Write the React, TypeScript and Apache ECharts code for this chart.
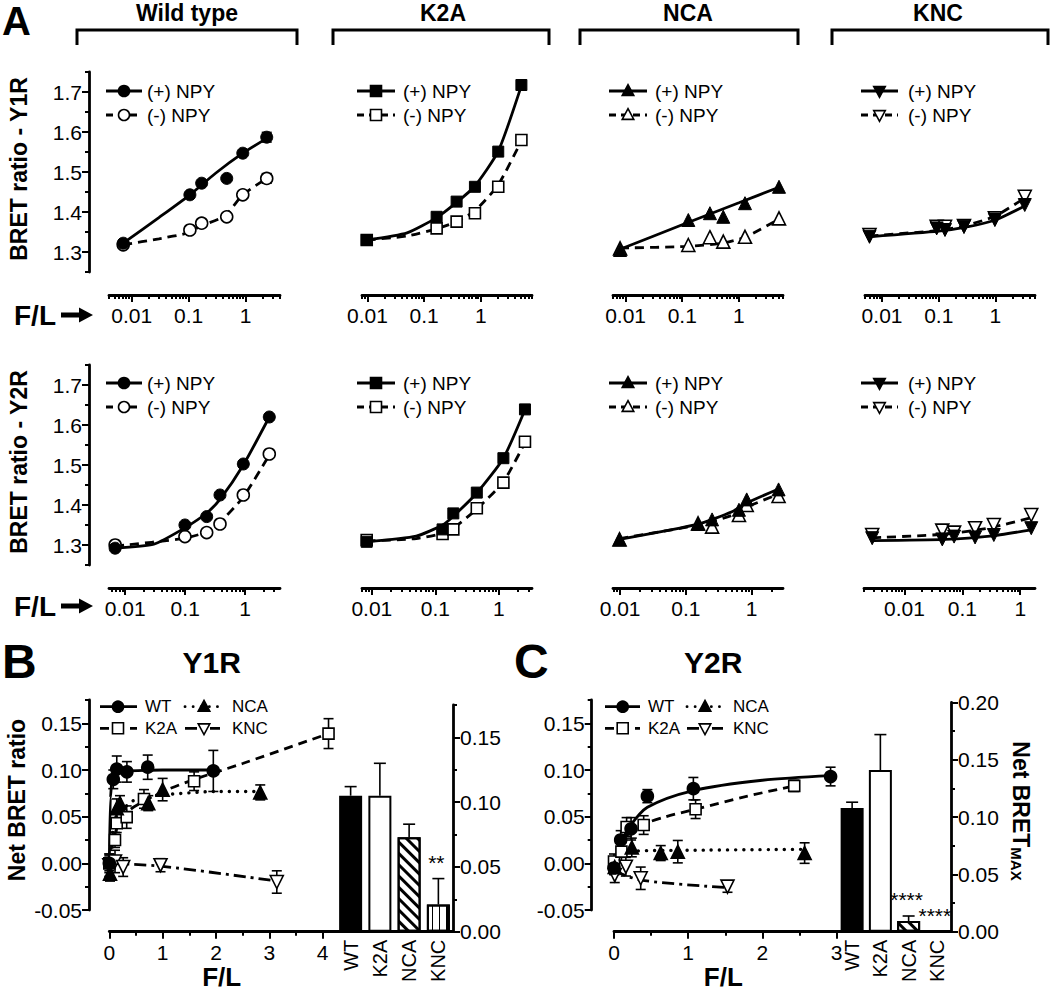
import React, { useEffect, useRef } from 'react';
import * as echarts from 'echarts';

const FONT = '"Liberation Sans", Arial, Helvetica, sans-serif';

// ---------------- Panel A : texts & ticks ----------------
const columnTitles = ['Wild type', 'K2A', 'NCA', 'KNC'];
const rowTitles = ['BRET ratio - Y1R', 'BRET ratio - Y2R'];
const legendLabelsA = ['(+) NPY', '(-) NPY'];
const yLabelsA = [1.3, 1.4, 1.5, 1.6, 1.7];
const yMinorA = [1.25, 1.35, 1.45, 1.55, 1.65, 1.75];
const logMajor = [0.001, 0.01, 0.1, 1, 10];
const logLabels = [0.01, 0.1, 1];

// Wild type, Y1R
const wtY1R_x = [0.0071, 0.105, 0.169, 0.465, 0.89, 2.34];
const wtY1R_pos = [1.322, 1.443, 1.472, 1.484, 1.547, 1.587];
const wtY1R_neg = [1.318, 1.355, 1.372, 1.388, 1.443, 1.484];
const wtY1R_posErr = [0, 0, 0, 0, 0, 0.012];
const wtY1R_negErr = [0, 0, 0, 0, 0, 0.012];
const wtY1R_fitPosX = [0.0071, 0.03, 0.105, 0.3, 0.89, 2.34];
const wtY1R_fitPosY = [1.322, 1.386, 1.443, 1.4975, 1.547, 1.584];
const wtY1R_fitNegX = [0.0071, 0.03, 0.092, 0.17, 0.43, 0.89, 2.34];
const wtY1R_fitNegY = [1.318, 1.333, 1.347, 1.366, 1.39, 1.443, 1.484];
// K2A, Y1R
const k2aY1R_x = [0.0097, 0.166, 0.374, 0.787, 2.03, 5.2];
const k2aY1R_pos = [1.33, 1.388, 1.426, 1.463, 1.551, 1.7175];
const k2aY1R_neg = [1.33, 1.359, 1.376, 1.397, 1.463, 1.58];
const k2aY1R_fitX = [0.0097, 0.05, 0.166, 0.374, 0.787, 2.03, 5.2];
const k2aY1R_fitPosY = [1.33, 1.348, 1.386, 1.424, 1.465, 1.552, 1.716];
const k2aY1R_fitNegY = [1.33, 1.34, 1.358, 1.376, 1.403, 1.468, 1.578];
// NCA, Y1R
const ncaY1R_x = [0.008, 0.128, 0.308, 0.53, 1.28, 5.1];
const ncaY1R_pos = [1.305, 1.38, 1.397, 1.388, 1.422, 1.463];
const ncaY1R_neg = [1.309, 1.3175, 1.337, 1.326, 1.338, 1.384];
const ncaY1R_fitPosX = [0.008, 0.1, 1, 5.1];
const ncaY1R_fitPosY = [1.307, 1.368, 1.423, 1.462];
const ncaY1R_fitNegX = [0.008, 0.128, 0.5, 1.28, 5.1];
const ncaY1R_fitNegY = [1.31, 1.314, 1.322, 1.337, 1.382];
// KNC, Y1R
const kncY1R_x = [0.006, 0.092, 0.129, 0.279, 0.98, 3.3];
const kncY1R_pos = [1.338, 1.359, 1.355, 1.363, 1.38, 1.4175];
const kncY1R_neg = [1.3425, 1.363, 1.363, 1.365, 1.384, 1.438];
const kncY1R_fitX = [0.006, 0.1, 0.3, 1, 3.3];
const kncY1R_fitPosY = [1.338, 1.352, 1.362, 1.38, 1.415];
const kncY1R_fitNegY = [1.34, 1.354, 1.366, 1.39, 1.435];
// Wild type, Y2R
const wtY2R_x = [0.0068, 0.099, 0.228, 0.38, 0.93, 2.52];
const wtY2R_pos = [1.292, 1.35, 1.371, 1.425, 1.5025, 1.62];
const wtY2R_neg = [1.3, 1.321, 1.331, 1.3525, 1.425, 1.5275];
const wtY2R_fitPosX = [0.0068, 0.03, 0.099, 0.228, 0.38, 0.93, 2.52];
const wtY2R_fitPosY = [1.292, 1.302, 1.343, 1.38, 1.414, 1.5, 1.62];
const wtY2R_fitNegX = [0.0068, 0.099, 0.228, 0.38, 0.93, 2.52];
const wtY2R_fitNegY = [1.297, 1.317, 1.333, 1.357, 1.42, 1.525];
// K2A, Y2R
const k2aY2R_x = [0.0083, 0.13, 0.192, 0.45, 1.18, 2.58];
const k2aY2R_pos = [1.308, 1.339, 1.379, 1.431, 1.517, 1.639];
const k2aY2R_neg = [1.3125, 1.3275, 1.339, 1.392, 1.456, 1.558];
const k2aY2R_fitX = [0.0083, 0.05, 0.13, 0.192, 0.45, 1.18, 2.58];
const k2aY2R_fitPosY = [1.308, 1.322, 1.35, 1.372, 1.43, 1.517, 1.638];
const k2aY2R_fitNegY = [1.31, 1.316, 1.329, 1.342, 1.39, 1.458, 1.556];
// NCA, Y2R
const ncaY2R_x = [0.0098, 0.153, 0.25, 0.64, 0.84, 2.56];
const ncaY2R_pos = [1.314, 1.3525, 1.364, 1.388, 1.414, 1.439];
const ncaY2R_neg = [1.314, 1.354, 1.346, 1.375, 1.4, 1.4225];
const ncaY2R_fitX = [0.0098, 0.153, 0.5, 0.84, 2.56];
const ncaY2R_fitPosY = [1.314, 1.352, 1.383, 1.405, 1.44];
const ncaY2R_fitNegY = [1.316, 1.35, 1.374, 1.395, 1.427];
// KNC, Y2R
const kncY2R_x = [0.00277, 0.045, 0.072, 0.166, 0.35, 1.55];
const kncY2R_pos = [1.317, 1.314, 1.321, 1.319, 1.325, 1.342];
const kncY2R_neg = [1.325, 1.336, 1.331, 1.342, 1.35, 1.375];
const kncY2R_fitX = [0.00277, 0.05, 0.3, 1.55];
const kncY2R_fitPosY = [1.311, 1.314, 1.322, 1.338];
const kncY2R_fitNegY = [1.318, 1.327, 1.343, 1.368];

// ---------------- Panels B / C ----------------
const groupNames = ['WT', 'K2A', 'NCA', 'KNC'];
const netLabels = [-0.05, 0, 0.05, 0.1, 0.15];
const netMinor = [-0.025, 0.025, 0.075, 0.125, 0.175];
const maxLabelsB = [0, 0.05, 0.1, 0.15];
const maxMinorB = [0.025, 0.075, 0.125, 0.175];
const maxLabelsC = [0, 0.05, 0.1, 0.15, 0.2];
const maxMinorC = [0.025, 0.075, 0.125, 0.175];
const flLabelsB = [0, 1, 2, 3, 4];
const flMinorB = [0.5, 1.5, 2.5, 3.5];
const flLabelsC = [0, 1, 2, 3];
const flMinorC = [0.5, 1.5, 2.5];

// B : Y1R
const wtB_x = [0, 0.075, 0.14, 0.33, 0.72, 1.95];
const wtB_y = [0, 0.09, 0.101, 0.098, 0.103, 0.099];
const wtB_err = [0.01, 0.01, 0.014, 0.011, 0.013, 0.022];
const wtB_fitX = [0, 0.02, 0.05, 0.1, 0.3, 1, 1.95];
const wtB_fitY = [0, 0.07, 0.09, 0.096, 0.099, 0.1, 0.1];
const k2aB_x = [0, 0.107, 0.139, 0.326, 0.65, 1.59, 4.11];
const k2aB_y = [0, 0.025, 0.043, 0.0495, 0.069, 0.088, 0.139];
const k2aB_err = [0.008, 0.008, 0.01, 0.012, 0.01, 0.01, 0.016];
const k2aB_fitX = [0, 0.1, 0.2, 0.4, 0.7, 1, 1.6, 2.5, 4.11];
const k2aB_fitY = [0, 0.03, 0.045, 0.058, 0.068, 0.077, 0.09, 0.107, 0.139];
const ncaB_x = [0.013, 0.139, 0.2, 0.73, 1.0, 2.83];
const ncaB_y = [-0.011, 0.059, 0.0645, 0.0645, 0.079, 0.076];
const ncaB_err = [0.008, 0.01, 0.008, 0.008, 0.012, 0.008];
const ncaB_fitX = [0, 0.05, 0.1, 0.2, 0.5, 1, 2, 2.83];
const ncaB_fitY = [-0.01, 0.03, 0.048, 0.058, 0.068, 0.074, 0.077, 0.077];
const kncB_x = [0, 0.107, 0.26, 0.96, 3.14];
const kncB_y = [-0.002, 0.002, -0.004, -0.002, -0.02];
const kncB_err = [0.012, 0.012, 0.01, 0.007, 0.012];
const kncB_fitX = [0, 0.96, 3.14];
const kncB_fitY = [0, -0.003, -0.019];
const barB = [0.105, 0.105, 0.073, 0.021];
const barB_err = [0.007, 0.025, 0.01, 0.02];
const sigB = ['', '', '', '**'];

// C : Y2R
const wtC_x = [0, 0.09, 0.23, 0.45, 1.07, 2.92];
const wtC_y = [-0.005, 0.025, 0.037, 0.072, 0.08, 0.093];
const wtC_err = [0.007, 0.01, 0.012, 0.007, 0.012, 0.01];
const wtC_fitX = [0, 0.1, 0.2, 0.45, 1.07, 2, 2.92];
const wtC_fitY = [0, 0.022, 0.038, 0.06, 0.078, 0.089, 0.094];
const k2aC_x = [0, 0.1, 0.17, 0.4, 1.1, 2.43];
const k2aC_y = [0.002, 0.0125, 0.039, 0.041, 0.058, 0.083];
const k2aC_err = [0.008, 0.01, 0.01, 0.01, 0.01, 0.006];
const k2aC_fitX = [0, 0.1, 0.2, 0.4, 0.7, 1.1, 1.8, 2.43];
const k2aC_fitY = [0, 0.018, 0.032, 0.042, 0.05, 0.058, 0.072, 0.083];
const ncaC_x = [0.01, 0.24, 0.63, 0.86, 2.57];
const ncaC_y = [-0.004, 0.017, 0.011, 0.0125, 0.011];
const ncaC_err = [0.008, 0.01, 0.008, 0.012, 0.011];
const ncaC_fitX = [0, 0.1, 0.24, 1, 2.57];
const ncaC_fitY = [-0.005, 0.008, 0.013, 0.014, 0.015];
const kncC_x = [0.01, 0.16, 0.36, 1.53];
const kncC_y = [-0.0126, -0.0036, -0.016, -0.025];
const kncC_err = [0.008, 0.01, 0.012, 0.006];
const kncC_fitX = [0, 0.36, 1.53];
const kncC_fitY = [-0.008, -0.018, -0.026];
const barC = [0.108, 0.141, 0.0093, 0];
const barC_err = [0.005, 0.031, 0.0044, 0];
const sigC = ['', '', '****', '****'];

// ---------------- helpers ----------------
const DASH = [9, 6];
const DOT = [0.1, 8];
const DASHDOT = [12, 5, 3, 5];
const LW = 2.8;

const zip = (xs: number[], ys: number[]) => xs.map((x, i) => [x, ys[i]]);
const zip3 = (xs: number[], ys: number[], es: number[]) => xs.map((x, i) => [x, ys[i], es[i]]);

const logMinor: number[] = [];
for (let e = -3; e <= 1; e++) for (let m = 2; m <= 9; m++) logMinor.push(+(m * Math.pow(10, e)).toPrecision(3));

const fmtLog = (v: number) => {
  const e = Math.round(Math.log10(v));
  return e < 0 ? v.toFixed(-e) : String(Math.round(v));
};
const fmt1 = (v: number) => v.toFixed(1);
const fmt2 = (v: number) => v.toFixed(2);
const fmt0 = (v: number) => String(Math.round(v));

function axisPair(o: any) {
  const inRange = (v: number) => v >= o.min * (o.type === 'log' ? 0.999 : 1) - 1e-9 && v <= o.max * (o.type === 'log' ? 1.001 : 1) + 1e-9;
  const base: any = {
    gridIndex: o.grid, type: o.type, min: o.min, max: o.max, position: o.position, offset: o.offset,
    splitLine: { show: false }, splitArea: { show: false }, minorTick: { show: false },
  };
  if (o.type === 'log') base.logBase = 10;
  const major = {
    ...base,
    axisLine: { show: true, onZero: false, lineStyle: { color: '#000', width: 2.8 } },
    axisTick: { show: true, customValues: o.major.filter(inRange), length: 7, lineStyle: { color: '#000', width: 2 } },
    axisLabel: { show: true, customValues: o.labels.filter(inRange), formatter: o.fmt, color: '#000', fontSize: o.fontSize, fontFamily: FONT, margin: o.margin },
  };
  const minor = {
    ...base,
    axisLine: { show: false, onZero: false },
    axisTick: { show: true, customValues: o.minor.filter(inRange), length: 4, lineStyle: { color: '#000', width: 2 } },
    axisLabel: { show: false },
  };
  return [major, minor];
}

function markerEl(kind: string, cx: number, cy: number, filled: boolean, size: number) {
  const style = { fill: filled ? '#000' : '#fff', stroke: '#000', lineWidth: 1.6 };
  const h = size / 2;
  if (kind === 'circle') return { type: 'circle', shape: { cx, cy, r: h }, style };
  if (kind === 'rect') return { type: 'rect', shape: { x: cx - h, y: cy - h, width: size, height: size }, style };
  if (kind === 'triangle')
    return { type: 'polygon', shape: { points: [[cx, cy - h * 1.15], [cx + h * 1.05, cy + h * 0.8], [cx - h * 1.05, cy + h * 0.8]] }, style };
  return { type: 'polygon', shape: { points: [[cx - h * 1.05, cy - h * 0.8], [cx + h * 1.05, cy - h * 0.8], [cx, cy + h * 1.15]] }, style };
}

function legendEls(x1: number, x2: number, y: number, dash: any, kind: string, filled: boolean, label: string, tx: number, fs: number, mx?: number) {
  const cx = mx ?? (x1 + x2) / 2;
  return [
    { type: 'line', shape: { x1, y1: y, x2, y2: y }, style: { stroke: '#000', lineWidth: LW, lineDash: dash, lineCap: dash === DOT ? 'round' : 'butt' } },
    markerEl(kind, cx, y, filled, 11),
    { type: 'text', style: { text: label, x: tx, y, fill: '#000', fontSize: fs, fontFamily: FONT, verticalAlign: 'middle', align: 'left' } },
  ];
}

function errSeries(xi: number, yi: number, data: number[][], cap: number, both: boolean, sig?: string[]) {
  return {
    type: 'custom', xAxisIndex: xi, yAxisIndex: yi, z: 2, silent: true, clip: false,
    data,
    renderItem: (params: any, api: any) => {
      const x = api.value(0), y = api.value(1), e = api.value(2);
      const children: any[] = [];
      const st = { stroke: '#000', lineWidth: 1.6 };
      const top = api.coord([x, y + e]);
      if (e > 0) {
        const bot = api.coord([x, both ? y - e : y]);
        children.push({ type: 'line', shape: { x1: top[0], y1: top[1], x2: bot[0], y2: bot[1] }, style: st });
        children.push({ type: 'line', shape: { x1: top[0] - cap, y1: top[1], x2: top[0] + cap, y2: top[1] }, style: st });
        if (both) children.push({ type: 'line', shape: { x1: bot[0] - cap, y1: bot[1], x2: bot[0] + cap, y2: bot[1] }, style: st });
      }
      const s = sig ? sig[params.dataIndex] : '';
      if (s) children.push({ type: 'text', style: { text: s, x: top[0] - 2, y: top[1] - 6, align: 'center', verticalAlign: 'bottom', fill: '#000', fontSize: 21, fontFamily: FONT } });
      return { type: 'group', children };
    },
  };
}

const markerKinds = ['circle', 'rect', 'triangle', 'triangleDown'];
const symbolOf = (k: string) => (k === 'triangleDown' ? 'triangle' : k);
const rotOf = (k: string) => (k === 'triangleDown' ? 180 : 0);
const sizeOf = (k: string) => (k === 'circle' ? 12 : k === 'rect' ? 11 : 13);

const panelsA = [
  { x: wtY1R_x, pos: wtY1R_pos, neg: wtY1R_neg, posErr: wtY1R_posErr, negErr: wtY1R_negErr, fpx: wtY1R_fitPosX, fpy: wtY1R_fitPosY, fnx: wtY1R_fitNegX, fny: wtY1R_fitNegY },
  { x: k2aY1R_x, pos: k2aY1R_pos, neg: k2aY1R_neg, fpx: k2aY1R_fitX, fpy: k2aY1R_fitPosY, fnx: k2aY1R_fitX, fny: k2aY1R_fitNegY },
  { x: ncaY1R_x, pos: ncaY1R_pos, neg: ncaY1R_neg, fpx: ncaY1R_fitPosX, fpy: ncaY1R_fitPosY, fnx: ncaY1R_fitNegX, fny: ncaY1R_fitNegY },
  { x: kncY1R_x, pos: kncY1R_pos, neg: kncY1R_neg, fpx: kncY1R_fitX, fpy: kncY1R_fitPosY, fnx: kncY1R_fitX, fny: kncY1R_fitNegY },
  { x: wtY2R_x, pos: wtY2R_pos, neg: wtY2R_neg, fpx: wtY2R_fitPosX, fpy: wtY2R_fitPosY, fnx: wtY2R_fitNegX, fny: wtY2R_fitNegY },
  { x: k2aY2R_x, pos: k2aY2R_pos, neg: k2aY2R_neg, fpx: k2aY2R_fitX, fpy: k2aY2R_fitPosY, fnx: k2aY2R_fitX, fny: k2aY2R_fitNegY },
  { x: ncaY2R_x, pos: ncaY2R_pos, neg: ncaY2R_neg, fpx: ncaY2R_fitX, fpy: ncaY2R_fitPosY, fnx: ncaY2R_fitX, fny: ncaY2R_fitNegY },
  { x: kncY2R_x, pos: kncY2R_pos, neg: kncY2R_neg, fpx: kncY2R_fitX, fpy: kncY2R_fitPosY, fnx: kncY2R_fitX, fny: kncY2R_fitNegY },
];

const layoutA = [
  { left: 109, width: 171, top: 72, xMin: 0.004, xMax: 4 },
  { left: 362, width: 170, top: 72, xMin: 0.008, xMax: 8 },
  { left: 613, width: 170, top: 72, xMin: 0.006, xMax: 6 },
  { left: 865, width: 170, top: 72, xMin: 0.005, xMax: 5 },
  { left: 109, width: 171, top: 365, xMin: 0.00537, xMax: 3.8 },
  { left: 362, width: 170, top: 365, xMin: 0.007, xMax: 3.33 },
  { left: 613, width: 170, top: 365, xMin: 0.0078, xMax: 2.99 },
  { left: 864, width: 171, top: 365, xMin: 0.002, xMax: 1.8 },
];
const legendXA = [[106, 142, 147], [357, 395, 403], [609, 647, 655], [861, 898, 908]];
const titleXA = [187, 443, 688, 938];
const bracketA = [[77, 297], [333, 549], [580, 798], [832, 1048]];

function buildOption() {
  const grid: any[] = [];
  const xAxis: any[] = [];
  const yAxis: any[] = [];
  const series: any[] = [];
  const els: any[] = [];
  const addGrid = (left: number, top: number, width: number, height: number) => {
    grid.push({ left, top, width, height, containLabel: false, outerBoundsMode: 'none' });
    return grid.length - 1;
  };

  // ---------- Panel A ----------
  panelsA.forEach((p: any, i) => {
    const L = layoutA[i];
    const col = i % 4;
    const row = Math.floor(i / 4);
    const kind = markerKinds[col];
    const g = addGrid(L.left, L.top, L.width, 200);
    const xi = xAxis.length;
    xAxis.push(...axisPair({ grid: g, type: 'log', min: L.xMin, max: L.xMax, position: 'bottom', offset: 23, labels: logLabels, major: logMajor, minor: logMinor, fmt: fmtLog, fontSize: 21, margin: 10 }));
    const yi = yAxis.length;
    if (col === 0) {
      yAxis.push(...axisPair({ grid: g, type: 'value', min: 1.25, max: 1.75, position: 'left', offset: L.left - 89, labels: yLabelsA, major: yLabelsA, minor: yMinorA, fmt: fmt1, fontSize: 21, margin: 7 }));
    } else {
      yAxis.push({ gridIndex: g, type: 'value', min: 1.25, max: 1.75, show: false });
    }
    const common = { xAxisIndex: xi, yAxisIndex: yi, silent: true, clip: false, animation: false };
    series.push({ ...common, type: 'line', data: zip(p.fpx, p.fpy), smooth: 0.2, symbol: 'none', lineStyle: { color: '#000', width: LW }, z: 2 });
    series.push({ ...common, type: 'line', data: zip(p.fnx, p.fny), smooth: 0.2, symbol: 'none', lineStyle: { color: '#000', width: LW, type: DASH }, z: 2 });
    if (p.posErr) series.push(errSeries(xi, yi, zip3(p.x, p.pos, p.posErr), 5, true));
    if (p.negErr) series.push(errSeries(xi, yi, zip3(p.x, p.neg, p.negErr), 5, true));
    series.push({ ...common, type: 'scatter', data: zip(p.x, p.neg), symbol: symbolOf(kind), symbolRotate: rotOf(kind), symbolSize: sizeOf(kind), itemStyle: { color: '#fff', borderColor: '#000', borderWidth: 1.6, opacity: 1 }, z: 3 });
    series.push({ ...common, type: 'scatter', data: zip(p.x, p.pos), symbol: symbolOf(kind), symbolRotate: rotOf(kind), symbolSize: sizeOf(kind), itemStyle: { color: '#000', borderColor: '#000', borderWidth: 1, opacity: 1 }, z: 4 });

    const ly = row === 0 ? [91, 115] : [383, 407];
    const lx = legendXA[col];
    els.push(...legendEls(lx[0], lx[1], ly[0], null, kind, true, legendLabelsA[0], lx[2], 19));
    els.push(...legendEls(lx[0], lx[1], ly[1], [7, 5], kind, false, legendLabelsA[1], lx[2], 19));
  });

  // column titles & brackets
  columnTitles.forEach((t, c) => {
    els.push({ type: 'text', style: { text: t, x: titleXA[c], y: 13, align: 'center', verticalAlign: 'middle', fill: '#000', fontSize: 23, fontWeight: 'bold', fontFamily: FONT } });
    const [a, b] = bracketA[c];
    els.push({ type: 'polyline', shape: { points: [[a, 45], [a, 30], [b, 30], [b, 45]] }, style: { stroke: '#000', lineWidth: 3, fill: null } });
  });
  // row titles
  rowTitles.forEach((t, r) => {
    els.push({ type: 'text', x: 19, y: r === 0 ? 169 : 462, rotation: Math.PI / 2, style: { text: t, x: 0, y: 0, align: 'center', verticalAlign: 'middle', fill: '#000', fontSize: 23, fontWeight: 'bold', fontFamily: FONT } });
  });
  // F/L arrows
  [315, 606].forEach((y) => {
    els.push({ type: 'text', style: { text: 'F/L', x: 14, y, align: 'left', verticalAlign: 'middle', fill: '#000', fontSize: 28, fontWeight: 'bold', fontFamily: FONT } });
    els.push({ type: 'polygon', shape: { points: [[61, y - 2.5], [79, y - 2.5], [79, y - 7.5], [93, y], [79, y + 7.5], [79, y + 2.5], [61, y + 2.5]] }, style: { fill: '#000' } });
  });
  // panel letters
  els.push({ type: 'text', style: { text: 'A', x: 2, y: 21, align: 'left', verticalAlign: 'middle', fill: '#000', fontSize: 40, fontWeight: 'bold', fontFamily: FONT } });
  els.push({ type: 'text', style: { text: 'B', x: 2, y: 661, align: 'left', verticalAlign: 'middle', fill: '#000', fontSize: 48, fontWeight: 'bold', fontFamily: FONT } });
  els.push({ type: 'text', style: { text: 'C', x: 514, y: 661, align: 'left', verticalAlign: 'middle', fill: '#000', fontSize: 48, fontWeight: 'bold', fontFamily: FONT } });

  // ---------- Panels B and C ----------
  const decalDiag = { symbol: 'rect', symbolSize: 1, color: '#000', dashArrayX: [1, 0], dashArrayY: [2.5, 4.5], rotation: Math.PI / 4 };
  const decalVert = { symbol: 'rect', symbolSize: 1, color: '#000', dashArrayX: [1, 0], dashArrayY: [1.6, 4.4], rotation: Math.PI / 2 };
  const barStyles = [
    { color: '#000', borderColor: '#000', borderWidth: 2 },
    { color: '#fff', borderColor: '#000', borderWidth: 2 },
    { color: '#fff', borderColor: '#000', borderWidth: 2, decal: decalDiag },
    { color: '#fff', borderColor: '#000', borderWidth: 2, decal: decalVert },
  ];
  const groupStyle = [
    { kind: 'circle', filled: true, dash: null as any },
    { kind: 'rect', filled: false, dash: DASH },
    { kind: 'triangle', filled: true, dash: DOT },
    { kind: 'triangleDown', filled: false, dash: DASHDOT },
  ];

  const panelsBC = [
    {
      lineLeft: 109.3, lineWidth: 226.7, yAxisX: 89, xMax: 4.25, flLabels: flLabelsB, flMinor: flMinorB,
      barLeft: 336, barWidth: 117, barTop: 705, barHeight: 226.7, barMax: 0.175, barLabels: maxLabelsB, barMinor: maxMinorB,
      groups: [
        { x: wtB_x, y: wtB_y, e: wtB_err, fx: wtB_fitX, fy: wtB_fitY },
        { x: k2aB_x, y: k2aB_y, e: k2aB_err, fx: k2aB_fitX, fy: k2aB_fitY },
        { x: ncaB_x, y: ncaB_y, e: ncaB_err, fx: ncaB_fitX, fy: ncaB_fitY },
        { x: kncB_x, y: kncB_y, e: kncB_err, fx: kncB_fitX, fy: kncB_fitY },
      ],
      bars: barB, barErr: barB_err, sig: sigB, steep: true,
      legend: { x1: 100, x2: 137, m1: 118, tx1: 145, x3: 185, x4: 220, m2: 204, tx2: 232 },
      title: 'Y1R', titleX: 211.7, flX: 221.7,
    },
    {
      lineLeft: 614, lineWidth: 224, yAxisX: 591.7, xMax: 3.02, flLabels: flLabelsC, flMinor: flMinorC,
      barLeft: 838, barWidth: 113, barTop: 702.5, barHeight: 229.2, barMax: 0.2, barLabels: maxLabelsC, barMinor: maxMinorC,
      groups: [
        { x: wtC_x, y: wtC_y, e: wtC_err, fx: wtC_fitX, fy: wtC_fitY },
        { x: k2aC_x, y: k2aC_y, e: k2aC_err, fx: k2aC_fitX, fy: k2aC_fitY },
        { x: ncaC_x, y: ncaC_y, e: ncaC_err, fx: ncaC_fitX, fy: ncaC_fitY },
        { x: kncC_x, y: kncC_y, e: kncC_err, fx: kncC_fitX, fy: kncC_fitY },
      ],
      bars: barC, barErr: barC_err, sig: sigC, steep: false,
      legend: { x1: 605, x2: 640, m1: 622.7, tx1: 648, x3: 687, x4: 723, m2: 705, tx2: 733 },
      title: 'Y2R', titleX: 713.3, flX: 723.3,
    },
  ];

  panelsBC.forEach((P) => {
    const g = addGrid(P.lineLeft, 700, P.lineWidth, 210);
    const xi = xAxis.length;
    xAxis.push(...axisPair({ grid: g, type: 'value', min: 0, max: P.xMax, position: 'bottom', offset: 21.7, labels: P.flLabels, major: P.flLabels, minor: P.flMinor, fmt: fmt0, fontSize: 21, margin: 10 }));
    const yi = yAxis.length;
    yAxis.push(...axisPair({ grid: g, type: 'value', min: -0.05, max: 0.175, position: 'left', offset: P.lineLeft - P.yAxisX, labels: netLabels, major: netLabels, minor: netMinor, fmt: fmt2, fontSize: 21, margin: 7 }));
    const common = { xAxisIndex: xi, yAxisIndex: yi, silent: true, clip: false };
    P.groups.forEach((gr, k) => {
      const st = groupStyle[k];
      const lineSeries: any = { ...common, type: 'line', data: zip(gr.fx, gr.fy), smooth: 0.3, symbol: 'none', z: 1,
        lineStyle: { color: '#000', width: k === 2 ? 3.4 : LW, type: st.dash || 'solid', cap: k === 2 ? 'round' : 'butt' } };
      if (P.steep && (k === 0 || k === 2)) lineSeries.smoothMonotone = 'x';
      series.push(lineSeries);
      series.push(errSeries(xi, yi, zip3(gr.x, gr.y, gr.e), 5, true));
      series.push({ ...common, type: 'scatter', data: zip(gr.x, gr.y), symbol: symbolOf(st.kind), symbolRotate: rotOf(st.kind), symbolSize: sizeOf(st.kind),
        itemStyle: { color: st.filled ? '#000' : '#fff', borderColor: '#000', borderWidth: 1.6, opacity: 1 }, z: 3 + (st.filled ? 1 : 0) });
    });

    // bar chart
    const gb = addGrid(P.barLeft, P.barTop, P.barWidth, P.barHeight);
    const bxi = xAxis.length;
    xAxis.push({ gridIndex: gb, type: 'category', data: groupNames, position: 'bottom', boundaryGap: true,
      axisLine: { show: true, onZero: false, lineStyle: { color: '#000', width: 2.8 } }, axisTick: { show: false },
      axisLabel: { rotate: 90, color: '#000', fontSize: 20, fontFamily: FONT, margin: 8 }, splitLine: { show: false } });
    const byi = yAxis.length;
    yAxis.push(...axisPair({ grid: gb, type: 'value', min: 0, max: P.barMax, position: 'right', offset: 0, labels: P.barLabels, major: P.barLabels, minor: P.barMinor, fmt: fmt2, fontSize: 21, margin: 7 }));
    series.push({ type: 'bar', xAxisIndex: bxi, yAxisIndex: byi, barWidth: 23, silent: true, z: 2,
      data: P.bars.map((v, i) => ({ value: v, itemStyle: barStyles[i] })) });
    series.push(errSeries(bxi, byi, P.bars.map((v, i) => [i, v, P.barErr[i]]), 6, false, P.sig));

    // legend
    const Lg = P.legend;
    const y1 = 706.7, y2 = 728.3;
    els.push(...legendEls(Lg.x1, Lg.x2, y1, null, 'circle', true, groupNames[0], Lg.tx1, 17, Lg.m1));
    els.push(...legendEls(Lg.x3, Lg.x4, y1, DOT, 'triangle', true, groupNames[2], Lg.tx2, 17, Lg.m2));
    els.push(...legendEls(Lg.x1, Lg.x2, y2, DASH, 'rect', false, groupNames[1], Lg.tx1, 17, Lg.m1));
    els.push(...legendEls(Lg.x3, Lg.x4, y2, DASHDOT, 'triangleDown', false, groupNames[3], Lg.tx2, 17, Lg.m2));

    els.push({ type: 'text', style: { text: P.title, x: P.titleX, y: 662, align: 'center', verticalAlign: 'middle', fill: '#000', fontSize: 30, fontWeight: 'bold', fontFamily: FONT } });
    els.push({ type: 'text', style: { text: 'F/L', x: P.flX, y: 977, align: 'center', verticalAlign: 'middle', fill: '#000', fontSize: 26, fontWeight: 'bold', fontFamily: FONT } });
  });

  els.push({ type: 'text', x: 17, y: 800, rotation: Math.PI / 2, style: { text: 'Net BRET ratio', x: 0, y: 0, align: 'center', verticalAlign: 'middle', fill: '#000', fontSize: 23, fontWeight: 'bold', fontFamily: FONT } });
  els.push({ type: 'text', x: 1021, y: 811, rotation: -Math.PI / 2, style: {
    text: '{a|Net BRET}{b|MAX}', x: 0, y: 0, align: 'center', verticalAlign: 'middle', fill: '#000', fontFamily: FONT,
    rich: { a: { fontSize: 23, fontWeight: 'bold', fontFamily: FONT, fill: '#000' }, b: { fontSize: 15, fontWeight: 'bold', fontFamily: FONT, fill: '#000', padding: [10, 0, 0, 0] } } } });

  return {
    animation: false,
    backgroundColor: '#fff',
    textStyle: { fontFamily: FONT, color: '#000' },
    grid, xAxis, yAxis, series,
    graphic: { elements: els.map((e) => ({ silent: true, z: 10, ...e })) },
  };
}

export default function App() {
  const ref = useRef<HTMLDivElement>(null);
  useEffect(() => {
    document.body.style.margin = '0';
    const chart = echarts.init(ref.current as HTMLDivElement, null, { renderer: 'svg' });
    chart.setOption(buildOption() as any);
    return () => chart.dispose();
  }, []);
  return <div ref={ref} style={{ width: 1050, height: 994 }} />;
}
